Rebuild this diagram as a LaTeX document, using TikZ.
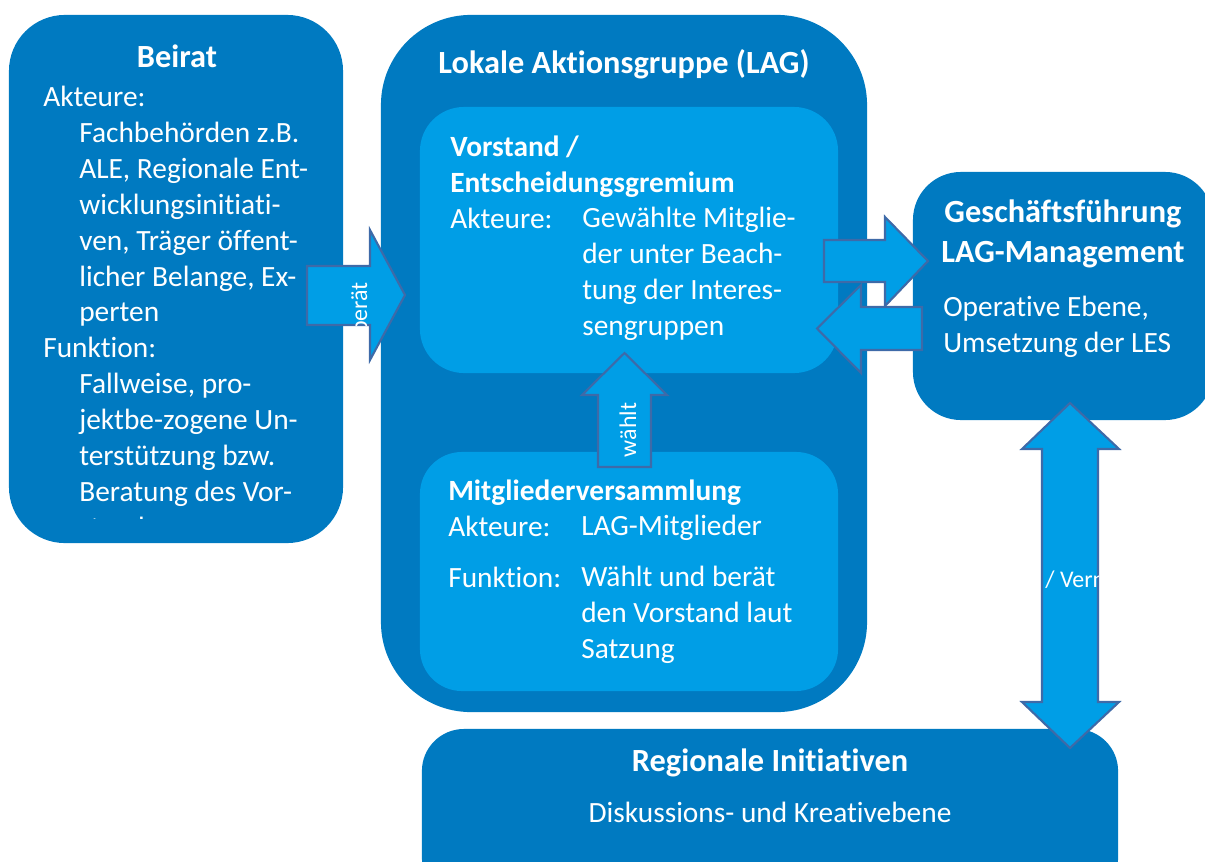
\documentclass[tikz,border=0pt]{standalone}
\usepackage{fontspec}
\setmainfont{Carlito}[Ligatures=NoCommon]

\definecolor{boxdark}{RGB}{0,122,193}
\definecolor{boxlight}{RGB}{0,158,230}
\definecolor{arrowline}{RGB}{62,106,168}

\begin{document}
\begin{tikzpicture}[x=0.025cm,y=-0.025cm,
    outerbox/.style={fill=boxdark,draw=none,inner sep=0pt,rounded corners=#1},
    innerbox/.style={fill=boxlight,draw=none,inner sep=0pt,rounded corners=#1},
    blockarrow/.style={fill=boxlight,draw=arrowline,line width=1.5pt},
    txt/.style={text=white,font=\fontsize{20.9}{25.5}\selectfont,inner sep=0pt,anchor=base west,align=left},
    ttl/.style={txt,font=\bfseries\fontsize{20.9}{25.5}\selectfont},
    bigttl/.style={txt,font=\bfseries\fontsize{23}{28}\selectfont,anchor=base,align=center},
    arrowlabel/.style={text=white,font=\fontsize{17}{20}\selectfont,inner sep=0pt,anchor=base}]

  \clip (0,0) rectangle (1205,862);

  % boxes
  \node[outerbox=1.4cm, minimum width=8.35cm, minimum height=13.2cm] (beirat) at (176,279) {};
  \node[outerbox=2.25cm, minimum width=12.15cm, minimum height=17.425cm] (lag) at (624,363.5) {};
  \node[innerbox=1.1cm, minimum width=10.45cm, minimum height=6.65cm] (vorstand) at (629,240) {};
  \node[innerbox=1.05cm, minimum width=10.45cm, minimum height=5.975cm] (mv) at (629,571.5) {};
  \node[outerbox=1.2cm, minimum width=7.5cm, minimum height=6.2cm] (gf) at (1063,296) {};
  \node[outerbox=1.05cm, minimum width=17.4cm, minimum height=4.275cm] (ri) at (770,814.5) {};

  % Beirat (multi-line nodes sit on their last baseline)
  \node[bigttl] (beirat-title) at (177,67) {Beirat};
  \begin{scope}
    \clip (0,0) rectangle (343,518);
    \node[txt] (beirat-text) at (43,537) {Akteure:\\
      \hspace*{0.9cm}Fachbehörden z.B.\\
      \hspace*{0.9cm}ALE, Regionale Ent-\\
      \hspace*{0.9cm}wicklungsinitiati-\\
      \hspace*{0.9cm}ven, Träger öffent-\\
      \hspace*{0.9cm}licher Belange, Ex-\\
      \hspace*{0.9cm}perten\\
      Funktion:\\
      \hspace*{0.9cm}Fallweise, pro-\\
      \hspace*{0.9cm}jektbe-zogene Un-\\
      \hspace*{0.9cm}terstützung bzw.\\
      \hspace*{0.9cm}Beratung des Vor-\\
      \hspace*{0.9cm}stands.};
  \end{scope}

  % LAG
  \node[bigttl] (lag-title) at (624,73) {Lokale Aktionsgruppe (LAG)};

  \node[ttl] (vorstand-title) at (450,192) {Vorstand /\\Entscheidungsgremium};
  \node[txt] (vorstand-key) at (450,228) {Akteure:};
  \node[txt] (vorstand-val) at (582,335) {Gewählte Mitglie-\\der unter Beach-\\tung der Interes-\\sengruppen};

  \node[ttl] (mv-title) at (448,500) {Mitgliederversammlung};
  \node[txt] (mv-key) at (448,587) {Akteure:\\[0.375cm]Funktion:};
  \node[txt] (mv-val) at (581,658) {LAG-Mitglieder\\[0.375cm]Wählt und berät\\den Vorstand laut\\Satzung};

  % Geschaeftsfuehrung
  \node[bigttl] (gf-title) at (1063,262) {Geschäftsführung\\LAG-Management};
  \node[txt] (gf-text) at (943,352) {Operative Ebene,\\Umsetzung der LES};

  % Regionale Initiativen
  \node[bigttl] (ri-title) at (770,771) {Regionale Initiativen};
  \node[txt, anchor=base] (ri-text) at (770,822) {Diskussions- und Kreativebene};

  % arrows
  \draw[blockarrow] (307,266) -- (370,266) -- (370,230) -- (405,295) -- (370,360) -- (370,325) -- (307,325) -- cycle;
  \begin{scope}
    \clip (307,266) -- (370,266) -- (370,230) -- (405,295) -- (370,360) -- (370,325) -- (307,325) -- cycle;
    \node[arrowlabel, rotate=90] (beraet) at (367,308) {berät};
  \end{scope}

  \draw[blockarrow] (598,467) -- (598,395) -- (582,395) -- (624.5,353) -- (667,395) -- (651,395) -- (651,467) -- cycle;
  \node[arrowlabel, rotate=90] (waehlt) at (636,430) {wählt};

  \draw[blockarrow] (824,240) -- (885,240) -- (885,217) -- (928,261) -- (885,306) -- (885,282) -- (824,282) -- cycle;
  \draw[blockarrow] (922,307) -- (861,307) -- (861,285) -- (817,328.5) -- (861,373) -- (861,350) -- (922,350) -- cycle;

  \draw[blockarrow] (1070,403) -- (1119,449) -- (1098,449) -- (1098,702) -- (1119,702) -- (1070,748) -- (1022,702) -- (1042,702) -- (1042,449) -- (1022,449) -- cycle;
  \begin{scope}
    \clip (1042,449) rectangle (1098,702);
    \node[arrowlabel] (vernetzt) at (1050,587) {\llap{Unterstützt }/\rlap{ Vernetzung}};
  \end{scope}

\end{tikzpicture}
\end{document}
